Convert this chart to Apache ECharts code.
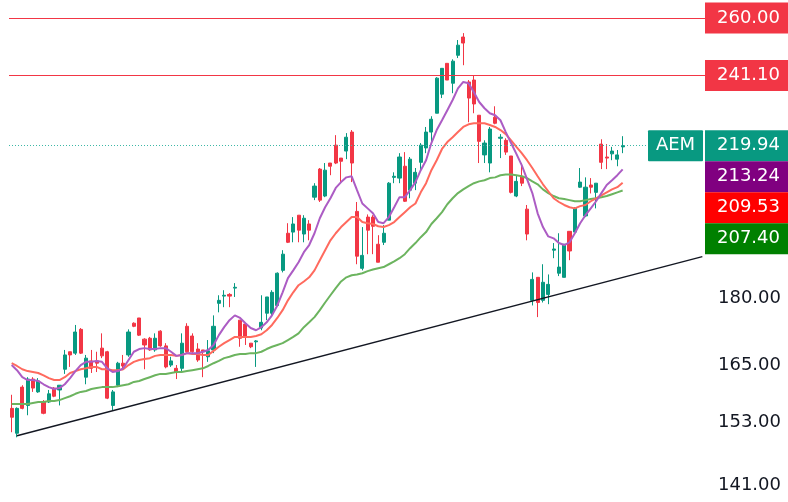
<!DOCTYPE html>
<html>
<head>
<meta charset="utf-8">
<script src="https://cdn.jsdelivr.net/npm/echarts@6/dist/echarts.min.js"></script>
<style>
html, body { margin: 0; padding: 0; background: #fff; }
#chart { width: 788px; height: 502px; }
</style>
</head>
<body>
<div id="chart"></div>
<script>
// AEM daily candles
const opens = [
  155.9, 150.9, 160.3, 156.5, 162.0, 159.3, 157.2, 157.2, 160.1, 159.7,
  164.1, 167.9, 167.6, 172.9, 162.4, 165.9, 165.9, 168.7, 167.9, 156.5,
  160.7, 165.4, 167.2, 174.3, 175.5, 170.7, 170.9, 168.3, 172.5, 169.2,
  165.0, 164.3, 164.3, 173.6, 171.4, 168.5, 168.3, 166.8, 168.3, 178.9,
  180.6, 181.0, 182.5, 175.0, 174.1, 169.8, 170.1, 173.2, 176.6, 176.6,
  178.4, 186.8, 196.1, 196.4, 200.8, 195.9, 198.5, 205.6, 213.3, 205.9,
  215.0, 220.1, 216.4, 218.4, 223.9, 201.8, 187.3, 200.3, 200.3, 193.3,
  193.8, 199.5, 211.0, 210.8, 214.1, 207.5, 209.4, 215.2, 219.3, 223.9,
  229.5, 235.3, 245.0, 238.7, 247.6, 253.6, 239.1, 239.7, 228.9, 217.3,
  215.0, 228.3, 222.1, 221.5, 217.0, 205.9, 211.3, 202.4, 179.6, 185.1,
  179.6, 181.0, 191.8, 186.1, 185.1, 196.6, 196.4, 208.3, 200.6, 208.9,
  206.9, 220.4, 216.7, 217.6, 216.1, 219.6
];
const closes = [
  154.1, 155.9, 155.9, 162.0, 160.1, 161.6, 154.9, 158.9, 158.4, 160.7,
  167.2, 167.2, 172.3, 167.6, 166.5, 164.3, 165.4, 167.0, 158.0, 159.3,
  165.4, 164.8, 172.3, 173.6, 171.6, 169.4, 168.3, 170.9, 169.2, 164.6,
  165.9, 163.5, 169.8, 167.9, 167.9, 166.1, 167.9, 168.1, 173.6, 179.6,
  180.8, 180.6, 182.7, 170.9, 171.2, 169.0, 170.3, 174.5, 180.4, 181.5,
  186.1, 190.8, 193.8, 198.5, 196.9, 200.0, 196.9, 208.6, 204.8, 213.0,
  214.1, 215.0, 215.5, 222.4, 215.0, 190.3, 190.5, 196.9, 197.9, 188.8,
  196.1, 209.4, 211.3, 216.7, 204.5, 216.1, 212.4, 220.1, 223.9, 227.7,
  240.3, 243.4, 239.7, 245.7, 250.9, 251.6, 234.1, 232.3, 221.2, 220.7,
  224.8, 226.5, 222.4, 218.1, 206.9, 209.9, 209.4, 195.9, 184.6, 179.1,
  183.9, 183.4, 192.1, 187.6, 193.3, 191.6, 202.6, 209.7, 208.3, 208.3,
  209.4, 215.2, 216.4, 218.4, 217.3, 219.94
];
const lows = [
  151.1, 150.1, 155.7, 154.5, 159.3, 159.1, 154.7, 157.0, 158.2, 156.5,
  163.1, 164.6, 167.2, 167.4, 160.9, 163.3, 163.5, 166.5, 157.8, 155.5,
  160.3, 163.9, 166.8, 173.4, 171.4, 164.1, 168.1, 167.9, 169.0, 164.3,
  164.6, 162.0, 163.5, 167.6, 167.6, 165.7, 162.4, 165.7, 167.6, 176.8,
  178.0, 178.0, 180.4, 169.0, 169.4, 168.7, 164.6, 172.7, 175.0, 175.7,
  178.2, 186.3, 193.6, 193.8, 193.8, 193.8, 194.3, 204.8, 204.3, 205.6,
  211.6, 214.7, 209.4, 216.1, 209.7, 188.3, 186.8, 190.8, 190.8, 188.8,
  193.1, 199.5, 209.4, 209.4, 204.3, 205.3, 207.5, 213.0, 217.8, 220.7,
  229.5, 234.1, 239.7, 235.6, 246.7, 244.4, 226.8, 229.5, 215.0, 215.0,
  212.4, 226.2, 216.4, 217.3, 206.6, 205.6, 208.6, 194.3, 178.4, 175.7,
  179.1, 178.7, 189.8, 185.4, 185.1, 189.3, 196.4, 208.1, 200.3, 206.6,
  202.6, 213.3, 213.3, 215.8, 214.1, 217.8
];
const highs = [
  158.7, 156.1, 160.7, 162.4, 162.4, 162.2, 157.6, 159.7, 160.3, 160.7,
  168.3, 167.9, 173.9, 173.2, 167.2, 168.3, 167.9, 172.0, 168.1, 159.7,
  165.7, 167.2, 172.9, 174.5, 175.5, 170.9, 171.2, 172.0, 172.7, 169.8,
  166.8, 165.0, 172.0, 174.3, 172.0, 169.8, 168.3, 170.5, 176.1, 180.8,
  182.0, 181.3, 183.7, 175.0, 174.1, 169.8, 170.5, 180.8, 180.4, 182.0,
  186.3, 191.8, 198.7, 200.3, 200.8, 200.8, 199.5, 209.4, 213.6, 215.0,
  215.0, 223.0, 216.4, 223.6, 224.5, 204.3, 197.7, 201.0, 200.8, 195.6,
  198.2, 209.7, 212.4, 217.8, 218.1, 216.7, 213.6, 220.7, 225.4, 228.6,
  240.6, 243.4, 245.0, 246.3, 252.6, 254.9, 239.7, 241.2, 228.9, 221.5,
  225.4, 231.6, 223.3, 222.1, 217.0, 211.6, 215.0, 203.5, 186.3, 185.1,
  188.3, 185.8, 193.6, 196.1, 193.3, 196.6, 202.9, 213.6, 211.0, 210.8,
  209.4, 221.8, 220.4, 219.6, 218.7, 222.7
];

// moving averages (fast purple, medium red, slow green)
const maFast = [
  165.0, 163.9, 162.4, 161.8, 161.8, 161.6, 160.9, 160.3, 159.9, 160.1,
  160.9, 162.2, 163.7, 165.0, 165.7, 165.7, 165.9, 165.7, 164.3, 163.5,
  163.7, 164.3, 166.1, 167.9, 168.5, 168.7, 168.5, 168.5, 168.7, 168.7,
  167.9, 167.0, 167.2, 167.6, 167.6, 167.6, 167.9, 168.3, 169.4, 171.6,
  173.4, 175.0, 176.1, 175.5, 174.3, 173.2, 172.7, 173.4, 174.5, 176.1,
  178.4, 181.5, 184.9, 186.8, 188.8, 191.3, 193.1, 196.1, 200.0, 202.9,
  205.3, 208.1, 209.7, 211.0, 211.3, 207.5, 203.9, 202.6, 201.3, 199.0,
  198.7, 200.3, 202.9, 205.6, 205.6, 207.5, 209.7, 213.0, 215.8, 220.7,
  224.5, 227.4, 230.4, 233.5, 237.1, 239.1, 238.7, 235.9, 232.9, 231.0,
  229.5, 228.9, 227.4, 223.9, 220.7, 217.6, 214.4, 210.5, 206.7, 201.3,
  197.7, 195.3, 194.8, 193.6, 193.1, 193.8, 196.1, 198.7, 200.8, 202.6,
  204.5, 206.7, 208.9, 210.2, 211.6, 213.24
];
const maMid = [
  165.4, 164.8, 164.1, 163.7, 163.5, 163.3, 162.8, 162.2, 161.8, 161.8,
  162.4, 163.3, 163.7, 164.1, 164.3, 164.6, 164.6, 164.1, 164.1, 163.9,
  163.9, 164.1, 165.0, 165.7, 166.1, 166.3, 166.5, 167.0, 167.2, 167.2,
  167.2, 167.0, 167.2, 167.6, 167.4, 167.4, 167.2, 167.2, 168.1, 169.0,
  169.8, 170.5, 171.2, 171.2, 171.2, 171.2, 171.4, 171.8, 172.7, 173.9,
  175.5, 177.3, 179.6, 181.5, 183.2, 184.1, 185.1, 186.8, 189.3, 191.8,
  194.3, 196.1, 197.7, 199.0, 200.3, 200.3, 199.0, 198.7, 198.5, 197.9,
  197.7, 198.2, 199.0, 200.3, 201.6, 202.9, 203.9, 206.9, 209.4, 213.0,
  215.8, 219.0, 221.0, 222.4, 223.9, 225.4, 226.2, 226.5, 226.5, 226.5,
  226.0, 225.4, 224.5, 223.3, 221.5, 219.6, 217.8, 215.8, 213.6, 211.3,
  209.1, 207.2, 205.3, 204.3, 203.5, 202.9, 202.6, 203.2, 203.5, 204.5,
  205.3, 206.1, 206.9, 207.7, 208.3, 209.53
];
const maSlow = [
  156.8, 156.8, 156.8, 156.8, 157.0, 157.2, 157.2, 157.4, 157.4, 157.6,
  158.0, 158.4, 158.9, 159.3, 159.5, 159.9, 160.1, 160.3, 160.3, 160.3,
  160.5, 160.7, 160.9, 161.4, 161.6, 162.0, 162.4, 162.8, 163.1, 163.1,
  163.3, 163.5, 163.5, 163.7, 163.9, 164.1, 164.3, 164.8, 165.4, 165.9,
  166.5, 166.8, 167.2, 167.4, 167.4, 167.6, 167.6, 167.9, 168.5, 169.0,
  169.4, 169.8, 170.5, 171.2, 172.0, 173.4, 174.5, 175.7, 177.3, 179.1,
  180.8, 182.5, 184.1, 185.1, 185.6, 185.8, 186.1, 186.6, 187.0, 187.3,
  187.6, 188.3, 189.0, 189.8, 190.8, 192.3, 193.6, 195.1, 196.4, 198.5,
  200.0, 201.6, 203.7, 205.3, 206.7, 207.7, 208.6, 209.4, 209.9, 210.2,
  210.8, 211.0, 211.6, 211.8, 211.8, 211.6, 211.3, 210.8, 209.9, 209.1,
  207.7, 206.7, 205.9, 205.3, 205.1, 204.8, 204.5, 204.5, 204.8, 205.1,
  205.3, 205.6, 205.9, 206.4, 206.9, 207.40
];

const priceTicks = [141, 153, 165, 180];
const levels = [260, 241.1];
const trendFrom = [1, 150.4];
const trendTo = [130, 190.2];
const slotCount = 131;

const slots = [];
for (let i = 0; i < slotCount; i++) slots.push(i);
const candles = opens.map((o, i) => [o, closes[i], lows[i], highs[i]]);
const lastClose = closes[closes.length - 1];

const UP = '#089981';
const DOWN = '#f23645';
const FONT = 'DejaVu Sans';

const chart = echarts.init(document.getElementById('chart'));

chart.setOption({
  animation: false,
  backgroundColor: '#ffffff',
  grid: { left: 9, right: 83, top: 0, bottom: 0 },
  xAxis: {
    type: 'category',
    data: slots,
    boundaryGap: true,
    show: false
  },
  yAxis: {
    type: 'log',
    position: 'right',
    min: 137.9,
    max: 266.2,
    axisLine: { show: false },
    axisTick: { show: false },
    splitLine: { show: false },
    axisLabel: {
      customValues: priceTicks,
      formatter: v => Number(v).toFixed(2),
      color: '#131722',
      fontFamily: FONT,
      fontSize: 18,
      margin: 13
    }
  },
  series: [
    {
      type: 'candlestick',
      data: candles,
      barWidth: 3.6,
      itemStyle: {
        color: UP,
        color0: DOWN,
        borderColor: UP,
        borderColor0: DOWN,
        borderWidth: 1
      },
      markLine: {
        silent: true,
        symbol: 'none',
        label: { show: false },
        emphasis: { disabled: true },
        lineStyle: { color: '#3db8a6', width: 1, type: [1, 2], opacity: 1 },
        data: [
          { yAxis: levels[0], lineStyle: { color: DOWN, width: 1.2, type: 'solid' } },
          { yAxis: levels[1], lineStyle: { color: DOWN, width: 1.2, type: 'solid' } },
          { yAxis: lastClose, lineStyle: { color: '#3db8a6', width: 1, type: [1, 2] } },
          [
            { coord: trendFrom, lineStyle: { color: '#131722', width: 1.4, type: 'solid' } },
            { coord: trendTo }
          ]
        ]
      }
    },
    {
      type: 'line', data: maSlow, symbol: 'none',
      lineStyle: { color: '#6cb45f', width: 2 }
    },
    {
      type: 'line', data: maMid, symbol: 'none',
      lineStyle: { color: '#ff6a5e', width: 2 }
    },
    {
      type: 'line', data: maFast, symbol: 'none',
      lineStyle: { color: '#ac5cc4', width: 2 }
    }
  ]
});

// price tags on the right scale
const BOX_X = 705, BOX_W = 83, BOX_H = 31;
const graphics = [];

function tag(top, color, text) {
  graphics.push({
    type: 'rect', z: 100,
    shape: { x: BOX_X, y: top, width: BOX_W, height: BOX_H },
    style: { fill: color }
  });
  graphics.push({
    type: 'text', z: 101,
    x: BOX_X + BOX_W / 2 + 2, y: top + BOX_H / 2,
    style: {
      text: text, fill: '#ffffff', font: '18px "' + FONT + '"',
      align: 'center', verticalAlign: 'middle'
    }
  });
}

levels.forEach(v => {
  const y = chart.convertToPixel({ yAxisIndex: 0 }, v);
  tag(y - BOX_H / 2, DOWN, v.toFixed(2));
});

const stacked = [
  { v: lastClose, color: UP },
  { v: maFast[maFast.length - 1], color: '#800080' },
  { v: maMid[maMid.length - 1], color: '#ff0000' },
  { v: maSlow[maSlow.length - 1], color: '#008000' }
];
let floor = -Infinity;
stacked.forEach((s, i) => {
  const y = chart.convertToPixel({ yAxisIndex: 0 }, s.v);
  const top = Math.max(y - BOX_H / 2, floor);
  floor = top + BOX_H;
  tag(top, s.color, s.v.toFixed(2));
  if (i === 0) {
    graphics.push({
      type: 'rect', z: 100,
      shape: { x: 648, y: top, width: 55, height: BOX_H, r: 1 },
      style: { fill: UP }
    });
    graphics.push({
      type: 'text', z: 101,
      x: 648 + 27.5, y: top + BOX_H / 2,
      style: {
        text: 'AEM', fill: '#ffffff', font: '18px "' + FONT + '"',
        align: 'center', verticalAlign: 'middle'
      }
    });
  }
});

chart.setOption({ graphic: graphics });
</script>
</body>
</html>
